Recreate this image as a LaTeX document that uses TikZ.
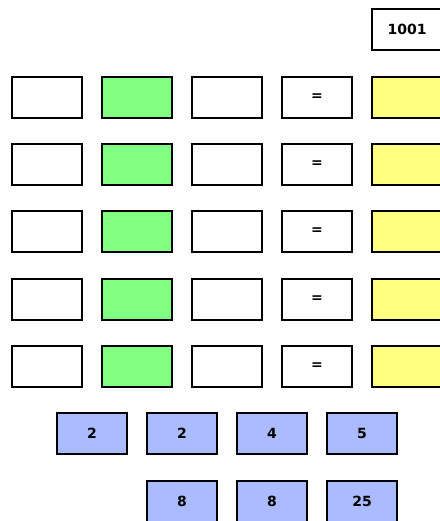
\documentclass[tikz,border=0pt]{standalone}
\usepackage{fontspec}
\setmainfont{DejaVu Sans}
\usetikzlibrary{positioning}
\definecolor{cellgreen}{RGB}{128,255,128}
\definecolor{cellyellow}{RGB}{255,255,128}
\definecolor{cellblue}{RGB}{170,187,255}

\begin{document}
\begin{tikzpicture}[x=1pt, y=-1pt, font=\bfseries\fontsize{14}{16}\selectfont,
      cell/.style={draw=black, line width=1.9pt, minimum width=70.1pt, minimum height=41.1pt,
        inner sep=0pt, fill=white},
      pick/.style={cell, fill=cellgreen},
      res/.style={cell, fill=cellyellow},
      num/.style={cell, fill=cellblue}]
    \useasboundingbox (0,0) rectangle (439,521);
    % total
    \node[cell] (total) at (407,29.5) {1001};
    % equation rows
    \foreach \r/\y in {1/97.5, 2/164.5, 3/231.5, 4/299.5, 5/366.5} {
      \node[cell] (a\r) at (47,\y) {};
      \node[pick] (op\r) at (137,\y) {};
      \node[cell] (b\r) at (227,\y) {};
      \node[cell] (eq\r) at (317,\y) {=};
      \node[res] (res\r) at (407,\y) {};
    }
    % number tiles
    \node[num] (n1) at (92,433.5) {2};
    \node[num] (n2) at (182,433.5) {2};
    \node[num] (n3) at (272,433.5) {4};
    \node[num] (n4) at (362,433.5) {5};
    \node[num] (n5) at (182,501.5) {8};
    \node[num] (n6) at (272,501.5) {8};
    \node[num] (n7) at (362,501.5) {25};
  \end{tikzpicture}
\end{document}
